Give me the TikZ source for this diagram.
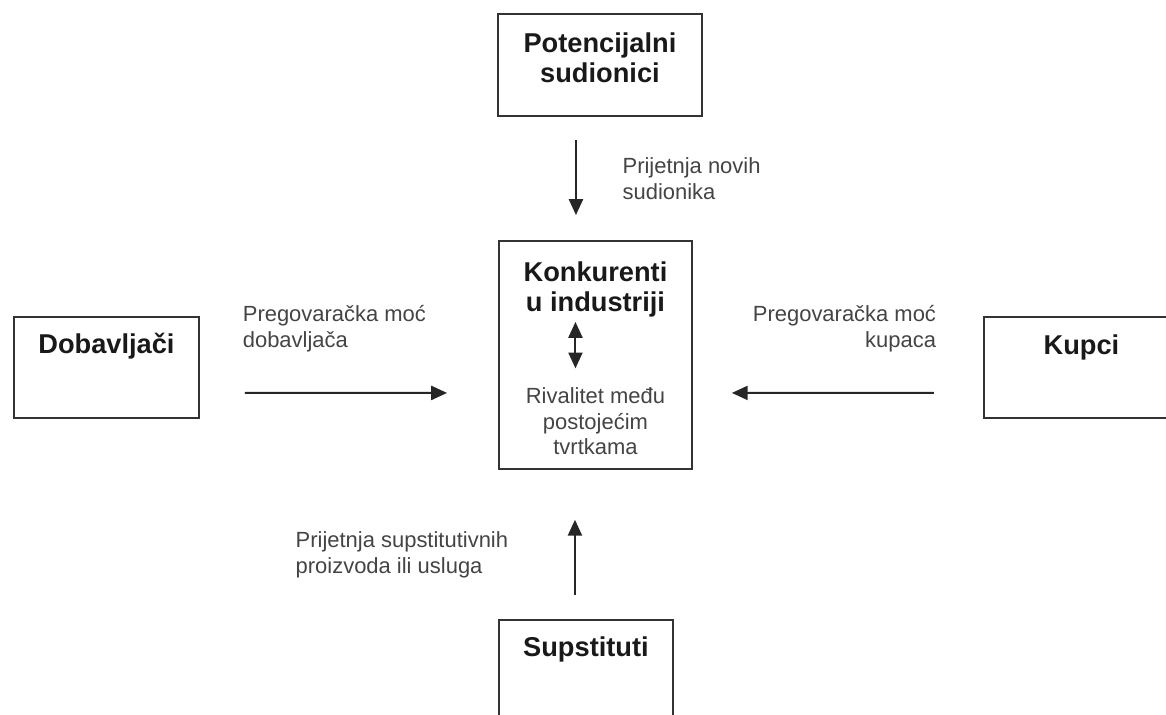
\documentclass[tikz,border=0pt]{standalone}
\usepackage{fontspec}
\setmainfont{Liberation Sans}
\usetikzlibrary{positioning,arrows.meta}
\definecolor{linegray}{HTML}{333333}
\definecolor{textgray}{HTML}{444444}

\begin{document}
\begin{tikzpicture}[%
    x=0.02cm,
    y=-0.02cm,
    >={Triangle[length=9pt,width=8pt]},
    boxnode/.style={%
      rectangle,
      draw=linegray,
      line width=1.1pt,
      anchor=north west,
      inner sep=0pt
    },
    boxtitle/.style={%
      inner sep=0pt,
      align=center,
      text=black!90,
      font=\fontsize{15.5}{17}\selectfont\bfseries
    },
    lbl/.style={%
      inner sep=0pt,
      text=textgray,
      font=\fontsize{12.5}{14.5}\selectfont
    },
    arr/.style={%
      ->,
      line width=1.1pt,
      draw=black!85
    }
  ]
    \useasboundingbox (0,0) rectangle (1166,715);
    \clip (0,0) rectangle (1166,715);

    % boxes
    \node[boxnode, minimum width=3.86cm, minimum height=4.56cm] (kon) at (498,240) {};
    \node[boxnode, minimum width=4.08cm, minimum height=2.04cm] (pot) at (497,13)  {};
    \node[boxnode, minimum width=3.70cm, minimum height=2.02cm] (dob) at (13,316)  {};
    \node[boxnode, minimum width=3.90cm, minimum height=2.02cm] (kup) at (983,316) {};
    \node[boxnode, minimum width=3.48cm, minimum height=2.20cm] (sup) at (498,619) {};

    % box texts
    \node[boxtitle, below=11pt of pot.north]   (pottxt) {Potencijalni\\sudionici};
    \node[boxtitle, below=12pt of kon.north]   (kontxt) {Konkurenti\\u industriji};
    \node[lbl, align=center, below=40pt of kontxt] (rivtxt) {Rivalitet među\\postojećim\\tvrtkama};
    \node[boxtitle, below=9.5pt of dob.north]  (dobtxt) {Dobavljači};
    \node[boxtitle, below=10.5pt of kup.north] (kuptxt) {Kupci};
    \node[boxtitle, below=10pt of sup.north]   (suptxt) {Supstituti};

    % forces
    \draw[arr, shorten <=13.1pt, shorten >=14.2pt] ([xshift=-0.48cm]pot.south)
      -- node[lbl, align=left, right=26pt] (novi) {Prijetnja novih\\sudionika}
      ([xshift=-0.39cm]kon.north);
    \draw[arr, shorten <=25.6pt, shorten >=29pt] ([yshift=-0.51cm]dob.east)
      -- node[lbl, align=left, pos=0, above right=22.8pt and 23.9pt] (dobmoc) {Pregovaračka moć\\dobavljača}
      ([yshift=-0.76cm]kon.west);
    \draw[arr, shorten <=27.9pt, shorten >=22.2pt] ([yshift=-0.51cm]kup.west)
      -- node[lbl, align=right, pos=0, above left=22.8pt and 26.2pt] (kupmoc) {Pregovaračka moć\\kupaca}
      ([yshift=-0.76cm]kon.east);
    \draw[arr, shorten <=13.7pt, shorten >=28.4pt] ([xshift=-0.22cm]sup.north)
      -- node[lbl, align=left, pos=0.43, left=37.5pt] (supmoc) {Prijetnja supstitutivnih\\proizvoda ili usluga}
      ([xshift=-0.41cm]kon.south);
    \draw[arr, <->, shorten <=2.8pt, shorten >=10.8pt] ([xshift=-0.4cm]kontxt.south)
      -- ([xshift=-0.4cm]rivtxt.north);
  \end{tikzpicture}
\end{document}
